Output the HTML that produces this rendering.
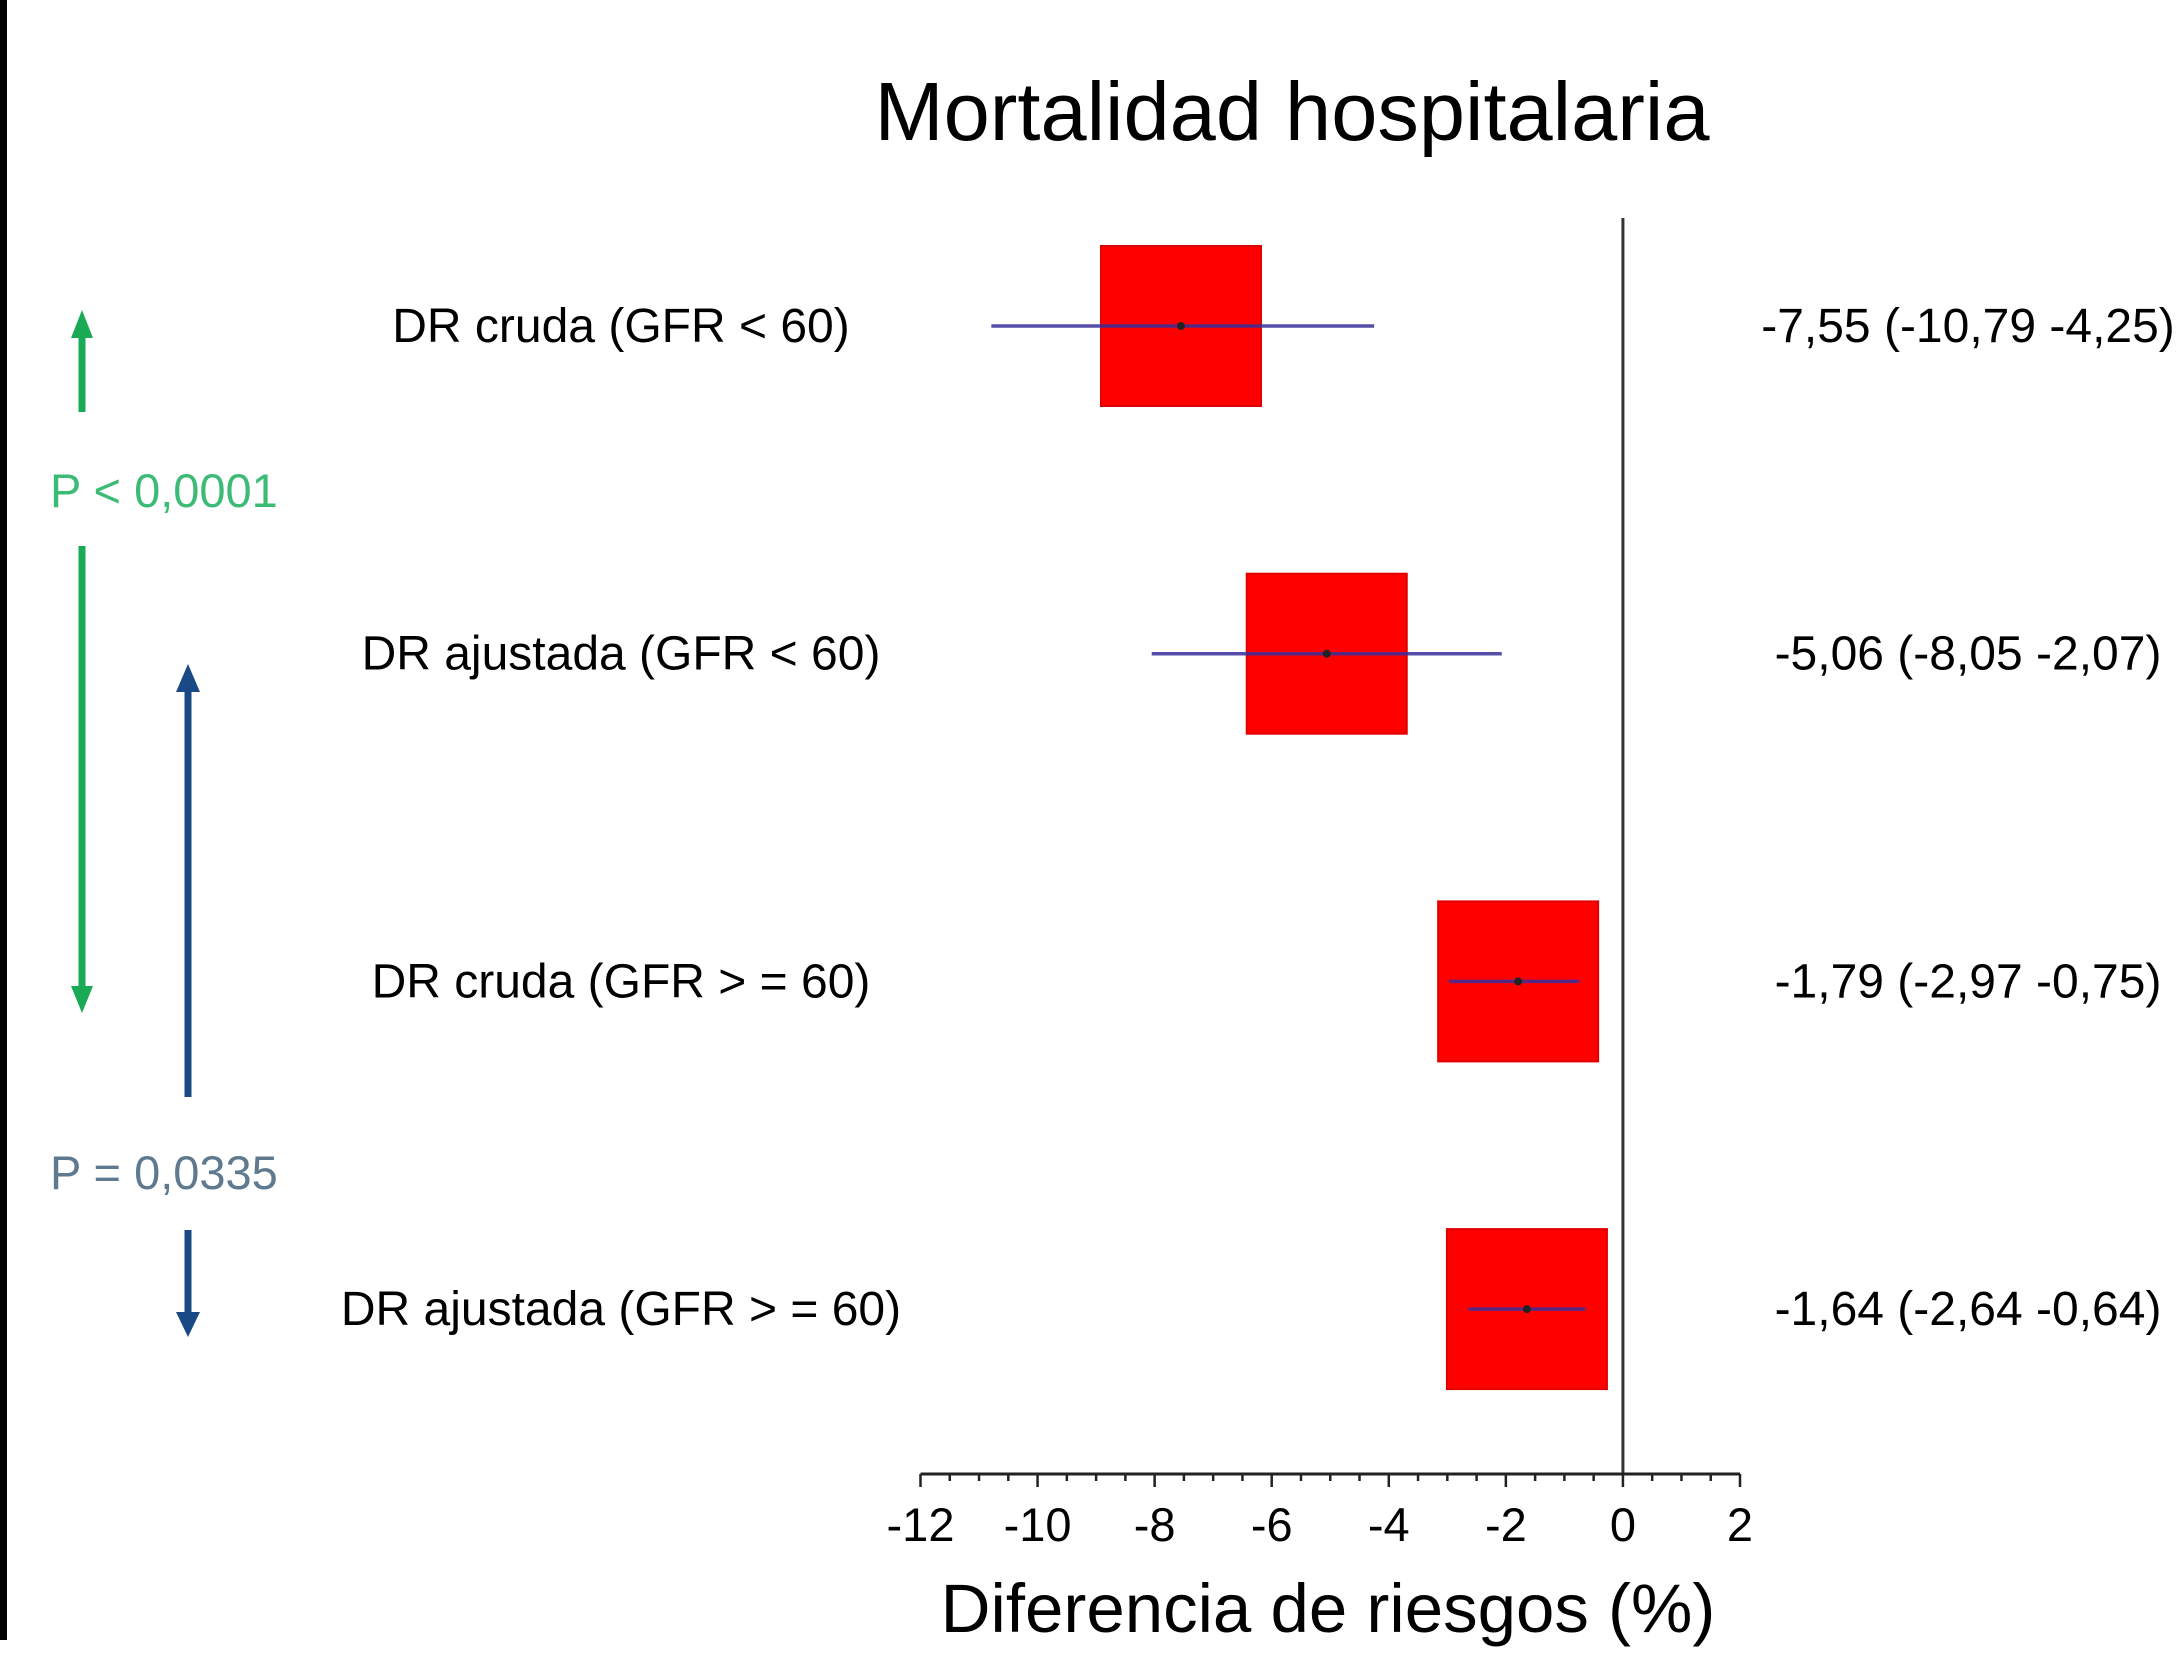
<!DOCTYPE html>
<html><head><meta charset="utf-8"><style>
html,body{margin:0;padding:0;background:#fff;}
svg{display:block;font-family:"Liberation Sans",sans-serif;}
</style></head><body>
<svg id="chart" width="2177" height="1665" viewBox="0 0 2177 1665">
<rect x="0" y="0" width="7" height="1640" fill="#000"/>
<text x="1292" y="140" font-size="83" text-anchor="middle" fill="#000">Mortalidad hospitalaria</text>
<g id="axis"></g>
<g id="rows"></g>
<text x="1328" y="1632" font-size="69" text-anchor="middle" fill="#000">Diferencia de riesgos (%)</text>
<g>
<line x1="82" y1="412" x2="82" y2="335" stroke="#1aaa55" stroke-width="7"/>
<polygon points="71,338 93,338 82,310" fill="#1aaa55"/>
<text x="50" y="507" font-size="47" fill="#3cbb77">P &lt; 0,0001</text>
<line x1="82" y1="546" x2="82" y2="990" stroke="#1aaa55" stroke-width="7"/>
<polygon points="71,986 93,986 82,1013" fill="#1aaa55"/>
</g>
<g>
<line x1="188" y1="1097" x2="188" y2="690" stroke="#1a4a85" stroke-width="7"/>
<polygon points="176,692 200,692 188,664" fill="#1a4a85"/>
<text x="50" y="1189" font-size="47" fill="#5f7a8f">P = 0,0335</text>
<line x1="188" y1="1230" x2="188" y2="1315" stroke="#1a4a85" stroke-width="7"/>
<polygon points="176,1312 200,1312 188,1337" fill="#1a4a85"/>
</g>
</svg>
<script>
const categories = ["DR cruda (GFR < 60)", "DR ajustada (GFR < 60)", "DR cruda (GFR > = 60)", "DR ajustada (GFR > = 60)"];
const estimates = [-7.55, -5.06, -1.79, -1.64];
const lower = [-10.79, -8.05, -2.97, -2.64];
const upper = [-4.25, -2.07, -0.75, -0.64];
const valueLabels = ["-7,55 (-10,79 -4,25)", "-5,06 (-8,05 -2,07)", "-1,79 (-2,97 -0,75)", "-1,64 (-2,64 -0,64)"];
const tickValues = [-12, -10, -8, -6, -4, -2, 0, 2];
const tickLabels = ["-12", "-10", "-8", "-6", "-4", "-2", "0", "2"];

const NS = "http://www.w3.org/2000/svg";
const X0 = 920.5, X1 = 1740, XMIN = -12, XMAX = 2;
function xs(v){ return X0 + (v - XMIN) / (XMAX - XMIN) * (X1 - X0); }
function ys(i){ return 326 + i * 327.7; }
const AXY = 1474;
function mk(tag, attrs, parent){ const e = document.createElementNS(NS, tag); for (const k in attrs) e.setAttribute(k, attrs[k]); parent.appendChild(e); return e; }

const axis = document.getElementById('axis');
const rows = document.getElementById('rows');
const zl = mk('line', {x1: xs(0), x2: xs(0), y1: 218, y2: AXY, stroke: '#333', 'stroke-width': 3}, axis);


const al = mk('line', {x1: xs(XMIN), x2: xs(XMAX), y1: AXY, y2: AXY, stroke: '#222', 'stroke-width': 3}, axis);


for (let v = XMIN; v <= XMAX + 1e-9; v += 0.5) {
  const major = Math.abs(v - Math.round(v / 2) * 2) < 1e-9;
  const t = mk('line', {x1: xs(v), x2: xs(v), y1: AXY, y2: AXY + (major ? 13 : 7), stroke: '#222', 'stroke-width': 2.5}, axis);
  
  
}
tickValues.forEach((v, i) => {
  const t = mk('text', {x: xs(v), y: 1541, 'font-size': 47, 'text-anchor': 'middle', fill: '#000'}, axis);
  t.textContent = tickLabels[i];
  
  
});
categories.forEach((c, i) => {
  const y = ys(i);
  const lab = mk('text', {x: 621, y: y + 16, 'font-size': 48, 'text-anchor': 'middle', fill: '#000'}, rows);
  lab.textContent = c;
  
  
  const box = mk('rect', {x: xs(estimates[i]) - 80, y: y - 80, width: 160, height: 160, fill: '#ff0000', stroke: '#e00000', 'stroke-width': 2}, rows);
  
  
  const ci = mk('line', {x1: xs(lower[i]), x2: xs(upper[i]), y1: y, y2: y, stroke: '#3a2f9a', 'stroke-width': 3.5, 'stroke-opacity': 0.85}, rows);
  
  
  const dot = mk('circle', {cx: xs(estimates[i]), cy: y, r: 4, fill: '#222'}, rows);
  
  
  const vl = mk('text', {x: 1968, y: y + 16, 'font-size': 48, 'text-anchor': 'middle', fill: '#000'}, rows);
  vl.textContent = valueLabels[i];
  
  
});
</script>
</body></html>
